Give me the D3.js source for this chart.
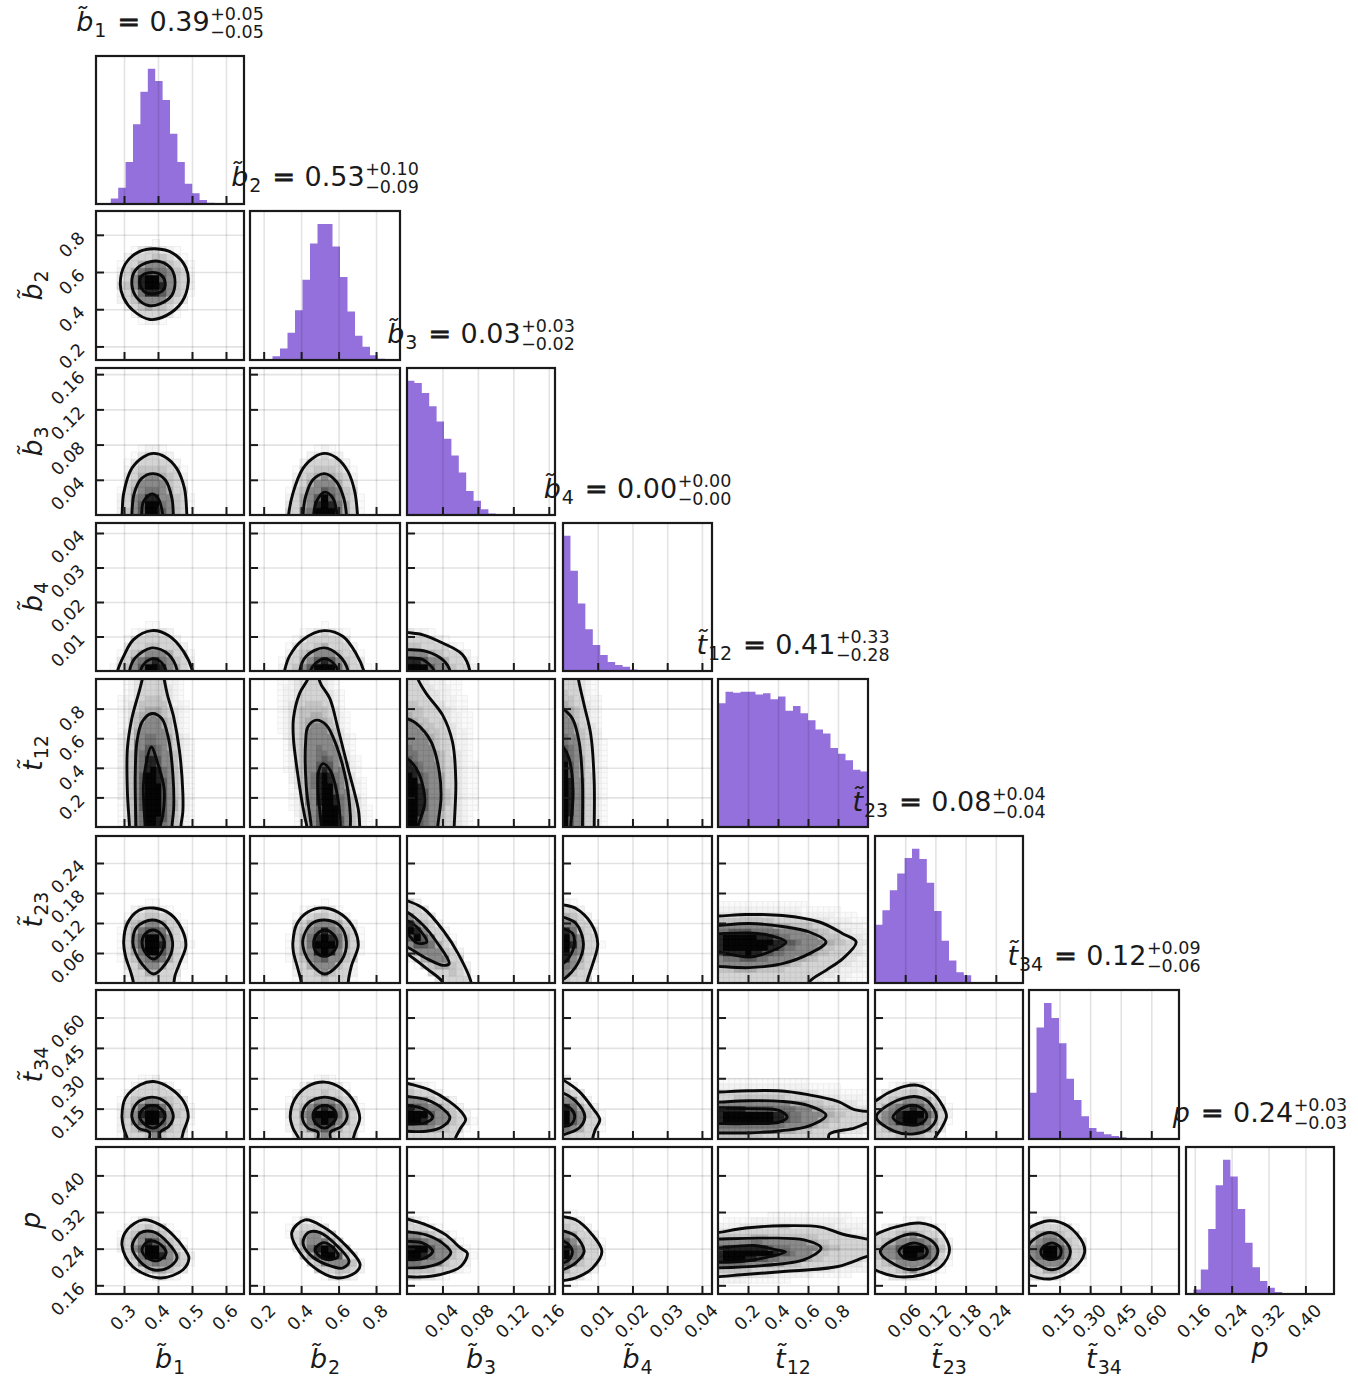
<!DOCTYPE html>
<html>
<head>
<meta charset="utf-8">
<style>
  body { margin: 0; background: #fff; }
  text { font-family: "DejaVu Sans", sans-serif; fill: #1a1a1a; }
</style>
</head>
<body>
<svg width="1358" height="1381"></svg>
<script src="https://d3js.org/d3.v7.min.js"></script>
<script>

// parameters, in the order of the corner plot
const names = ["b1", "b2", "b3", "b4", "t12", "t23", "t34", "p"];
const labelBase = ["b\u0303", "b\u0303", "b\u0303", "b\u0303", "t\u0303", "t\u0303", "t\u0303", "p"];
const labelSub = ["1", "2", "3", "4", "12", "23", "34", ""];
const titleValue = ["0.39", "0.53", "0.03", "0.00", "0.41", "0.08", "0.12", "0.24"];
const titlePlus = ["+0.05", "+0.10", "+0.03", "+0.00", "+0.33", "+0.04", "+0.09", "+0.03"];
const titleMinus = ["\u22120.05", "\u22120.09", "\u22120.02", "\u22120.00", "\u22120.28", "\u22120.04", "\u22120.06", "\u22120.03"];

// axis ranges and ticks
const domains = [[0.2176, 0.653], [0.127, 0.928], [0, 0.167], [0, 0.0429], [0, 1], [0, 0.294], [0, 0.736], [0.141, 0.462]];
const tickValues = [
  [0.3, 0.4, 0.5, 0.6], [0.2, 0.4, 0.6, 0.8], [0.04, 0.08, 0.12, 0.16], [0.01, 0.02, 0.03, 0.04],
  [0.2, 0.4, 0.6, 0.8], [0.06, 0.12, 0.18, 0.24], [0.15, 0.30, 0.45, 0.60], [0.16, 0.24, 0.32, 0.40]
];
const tickFormats = [".1f", ".1f", ".2f", ".2f", ".1f", ".2f", ".2f", ".2f"];

// marginal histograms, 20 bins
const hist_b1 = [0, 0.005, 0.04, 0.12, 0.31, 0.59, 0.83, 1, 0.91, 0.77, 0.52, 0.31, 0.15, 0.08, 0.03, 0.01, 0.005, 0, 0, 0];
const hist_b2 = [0, 0.003, 0.005, 0.027, 0.084, 0.2, 0.366, 0.59, 0.856, 1, 1, 0.834, 0.61, 0.356, 0.178, 0.097, 0.035, 0.01, 0.003, 0];
const hist_b3 = [1, 0.983, 0.909, 0.81, 0.696, 0.568, 0.444, 0.316, 0.178, 0.106, 0.042, 0.012, 0.002, 0, 0, 0, 0, 0, 0, 0];
const hist_b4 = [1, 0.741, 0.5, 0.309, 0.193, 0.119, 0.067, 0.044, 0.032, 0.012, 0.007, 0.005, 0.002, 0, 0, 0, 0, 0, 0, 0];
const hist_t12 = [0.915, 1, 0.993, 1, 1, 0.98, 0.99, 0.945, 0.965, 0.861, 0.896, 0.841, 0.789, 0.721, 0.692, 0.585, 0.542, 0.493, 0.423, 0.41];
const hist_t23 = [0.433, 0.542, 0.69, 0.815, 0.931, 1, 0.924, 0.746, 0.537, 0.315, 0.167, 0.081, 0.057, 0.007, 0.002, 0, 0, 0, 0, 0];
const hist_t34 = [0.34, 0.82, 1, 0.889, 0.704, 0.443, 0.286, 0.167, 0.081, 0.054, 0.034, 0.022, 0.012, 0.007, 0.005, 0.005, 0.002, 0.002, 0, 0];
const hist_p = [0.002, 0.034, 0.182, 0.484, 0.811, 1, 0.875, 0.634, 0.381, 0.199, 0.096, 0.047, 0.015, 0.005, 0.002, 0, 0, 0, 0, 0];
const hists = [hist_b1, hist_b2, hist_b3, hist_b4, hist_t12, hist_t23, hist_t34, hist_p];

// contours of each pair, in data units: [outer, middle, inner], row_column
const b2_b1 = [
  [[.289,.535],[.303,.641],[.342,.707],[.391,.725],[.445,.7],[.482,.624],[.489,.544],[.47,.438],[.425,.367],[.376,.345],[.327,.393],[.298,.464]],
  [[.323,.535],[.332,.606],[.367,.65],[.406,.656],[.44,.615],[.45,.544],[.44,.473],[.406,.429],[.372,.42],[.337,.464]],
  [[.347,.535],[.352,.579],[.376,.597],[.406,.588],[.421,.544],[.414,.5],[.386,.482],[.362,.491]]
];
const b3_b1 = [
  [[.29,-.012],[.294,0],[.299,.0246],[.323,.053],[.357,.066],[.387,.07],[.421,.066],[.455,.053],[.478,.03],[.485,0],[.487,-.012]],
  [[.323,-.012],[.323,0],[.33,.0246],[.352,.0416],[.387,.047],[.421,.04],[.441,.019],[.445,0],[.445,-.012]],
  [[.352,-.012],[.352,0],[.357,.015],[.382,.024],[.4,.019],[.414,0],[.414,-.012]]
];
const b3_b2 = [
  [[.33,-.012],[.333,0],[.356,.0246],[.41,.053],[.472,.066],[.526,.07],[.588,.065],[.651,.049],[.687,.026],[.701,0],[.703,-.012]],
  [[.41,-.012],[.41,0],[.424,.021],[.463,.04],[.526,.047],[.588,.038],[.628,.019],[.642,0],[.642,-.012]],
  [[.467,-.012],[.467,0],[.481,.015],[.526,.026],[.57,.019],[.592,0],[.592,-.012]]
];
const b4_b1 = [
  [[.278,-.002],[.281,0],[.299,.0043],[.328,.0091],[.382,.0117],[.431,.0103],[.475,.0057],[.502,0],[.505,-.002]],
  [[.316,-.002],[.316,0],[.333,.0038],[.382,.0067],[.431,.0048],[.457,0],[.457,-.002]],
  [[.348,-.002],[.348,0],[.362,.0024],[.387,.0036],[.411,.0024],[.424,0],[.424,-.002]]
];
const b4_b2 = [
  [[.305,-.002],[.311,0],[.338,.0043],[.41,.0091],[.522,.0117],[.624,.01],[.696,.0048],[.735,0],[.74,-.002]],
  [[.392,-.002],[.392,0],[.427,.0043],[.522,.0067],[.606,.0043],[.651,0],[.651,-.002]],
  [[.449,-.002],[.449,0],[.481,.0024],[.526,.0036],[.57,.0024],[.597,0],[.597,-.002]]
];
const b4_b3 = [
  [[-.006,.0115],[0,.0112],[.0179,.0105],[.0402,.0081],[.0625,.0048],[.071,0],[.071,-.002],[-.006,-.002]],
  [[-.006,.0063],[0,.0062],[.0216,.0057],[.0402,.0033],[.0487,0],[.0487,-.002],[-.006,-.002]],
  [[-.006,.0039],[0,.0038],[.0179,.0033],[.0309,0],[.0309,-.002],[-.006,-.002]]
];
const t12_b1 = [
  [[.358,1.06],[.354,1],[.343,.903],[.323,.733],[.31,.529],[.31,.235],[.316,0],[.316,-.06],[.467,-.06],[.467,0],[.473,.1],[.473,.235],[.463,.518],[.446,.744],[.428,.891],[.418,1],[.414,1.06]],
  [[.335,-.06],[.335,0],[.333,.348],[.338,.575],[.353,.71],[.382,.767],[.411,.733],[.431,.597],[.444,.348],[.446,.122],[.441,0],[.441,-.06]],
  [[.362,-.06],[.362,0],[.357,.28],[.365,.428],[.38,.541],[.401,.416],[.418,.258],[.414,.077],[.406,0],[.406,-.06]]
];
const t12_b2 = [
  [[.445,1.06],[.436,1],[.392,.903],[.359,.733],[.359,.597],[.383,.348],[.418,.077],[.431,0],[.431,-.06],[.713,-.06],[.713,0],[.705,.122],[.651,.394],[.597,.665],[.553,.869],[.508,.959],[.495,1],[.49,1.06]],
  [[.454,-.06],[.454,0],[.427,.28],[.424,.575],[.436,.676],[.481,.722],[.535,.688],[.588,.552],[.642,.303],[.663,.077],[.663,0],[.663,-.06]],
  [[.508,-.06],[.508,0],[.49,.258],[.495,.382],[.517,.428],[.556,.382],[.597,.19],[.61,0],[.61,-.06]]
];
const t12_b3 = [
  [[.01,1.06],[.0123,1],[.0216,.903],[.0402,.756],[.0513,.576],[.0551,.305],[.0532,0],[.053,-.06],[-.01,-.06],[-.01,1.06]],
  [[-.01,.76],[0,.733],[.0104,.7],[.0272,.576],[.0365,.372],[.0383,.192],[.0346,0],[.034,-.06],[-.01,-.06]],
  [[-.01,.48],[0,.463],[.0104,.395],[.0186,.26],[.0197,.147],[.0123,0],[.012,-.06],[-.01,-.06]]
];
const t12_b4 = [
  [[.0042,1.06],[.00444,1],[.00609,.824],[.00802,.621],[.00898,.305],[.00898,0],[.00898,-.06],[-.001,-.06],[-.001,1.06]],
  [[-.001,.82],[0,.801],[.0027,.733],[.00464,.576],[.0056,.305],[.0056,0],[.0056,-.06],[-.001,-.06]],
  [[-.001,.56],[0,.542],[.00174,.463],[.0029,.237],[.00222,0],[.0022,-.06],[-.001,-.06]]
];
const t23_b1 = [
  [[.299,.0815],[.309,.118],[.343,.145],[.387,.15],[.436,.138],[.47,.108],[.482,.0748],[.465,.0414],[.45,.0147],[.447,0],[.447,-.02],[.328,-.02],[.328,0],[.32,.0214],[.304,.0548]],
  [[.326,.0815],[.338,.112],[.382,.126],[.421,.115],[.443,.0815],[.431,.048],[.387,.018],[.353,.038],[.333,.0615]],
  [[.353,.0815],[.362,.098],[.387,.106],[.411,.095],[.418,.078],[.406,.058],[.387,.048],[.362,.0615]]
];
const t23_b2 = [
  [[.356,.0815],[.377,.118],[.436,.142],[.526,.15],[.624,.135],[.687,.105],[.705,.0748],[.669,.0347],[.651,0],[.651,-.02],[.401,-.02],[.401,0],[.383,.028],[.359,.0615]],
  [[.41,.088],[.454,.118],[.526,.126],[.606,.115],[.642,.0815],[.615,.0448],[.526,.018],[.454,.038],[.418,.0615]],
  [[.467,.0815],[.485,.098],[.526,.106],[.57,.098],[.592,.0815],[.57,.0615],[.526,.0534],[.481,.0615]]
];
const t23_b3 = [
  [[-.006,.17],[0,.165],[.0186,.149],[.0409,.105],[.0577,.0587],[.0725,0],[.0725,-.02],[.0409,-.02],[.0409,0],[.0223,.0287],[0,.0587],[-.006,.065]],
  [[-.006,.146],[0,.142],[.0186,.115],[.0335,.082],[.0476,.0387],[.0409,.0353],[.0223,.0487],[0,.072],[-.006,.076]],
  [[-.006,.128],[0,.125],[.0112,.112],[.0223,.082],[.0112,.08],[0,.0987],[-.006,.102]]
];
const t23_b4 = [
  [[-.001,.16],[0,.157],[.00376,.149],[.0081,.119],[.01,.0787],[.00858,.0387],[.00684,0],[.0068,-.02],[-.001,-.02]],
  [[-.001,.135],[0,.132],[.00376,.119],[.00588,.0787],[.00424,.0387],[.00039,.0087],[-.001,.006]],
  [[-.001,.112],[0,.109],[.0028,.0987],[.0033,.0787],[.00183,.052],[0,.0387],[-.001,.036]]
];
const t23_t12 = [
  [[-.02,.135],[0,.134],[.185,.137],[.43,.135],[.676,.122],[.832,.0987],[.921,.082],[.832,.0487],[.72,.0253],[.609,.002],[.59,-.02],[-.02,-.02]],
  [[-.02,.115],[0,.115],[.207,.119],[.43,.113],[.609,.102],[.72,.082],[.609,.0587],[.43,.0387],[.207,.0307],[0,.0333],[-.02,.0333]],
  [[-.02,.0987],[0,.0987],[.207,.1],[.341,.0954],[.453,.082],[.341,.062],[.207,.052],[0,.062],[-.02,.062]]
];
const t34_b1 = [
  [[.294,.112],[.304,.202],[.348,.268],[.387,.284],[.436,.251],[.475,.186],[.489,.112],[.475,.038],[.47,0],[.47,-.03],[.31,-.03],[.31,0],[.299,.054]],
  [[.323,.112],[.338,.177],[.382,.207],[.426,.177],[.445,.112],[.431,.062],[.406,.033],[.406,-.02],[.375,-.02],[.375,.033],[.343,.054]],
  [[.346,.112],[.358,.15],[.387,.166],[.411,.145],[.421,.112],[.406,.071],[.387,.054],[.362,.071]]
];
const t34_b2 = [
  [[.342,.112],[.365,.194],[.436,.26],[.526,.281],[.615,.251],[.687,.177],[.713,.104],[.687,.03],[.678,0],[.678,-.03],[.388,-.03],[.388,0],[.356,.054]],
  [[.406,.112],[.436,.177],[.526,.207],[.615,.177],[.646,.112],[.615,.062],[.556,.033],[.556,-.02],[.49,-.02],[.49,.033],[.436,.054]],
  [[.463,.112],[.481,.15],[.526,.166],[.57,.15],[.588,.112],[.561,.071],[.526,.054],[.49,.067]]
];
const t34_b3 = [
  [[-.006,.285],[0,.276],[.0253,.243],[.0476,.186],[.0625,.128],[.0662,.095],[.0606,.054],[.0543,0],[.054,-.03],[-.006,-.03]],
  [[-.006,.215],[0,.21],[.0216,.194],[.0402,.15],[.0484,.107],[.0402,.062],[.0216,.038],[0,.038],[-.006,.038]],
  [[-.006,.168],[0,.166],[.0179,.15],[.029,.108],[.0197,.079],[0,.074],[-.006,.074]]
];
const t34_b4 = [
  [[-.001,.3],[0,.292],[.00464,.235],[.0085,.153],[.0106,.095],[.00927,.046],[.0085,0],[.0085,-.03],[-.001,-.03]],
  [[-.001,.23],[0,.227],[.00367,.186],[.00628,.112],[.00464,.054],[0,.021],[-.001,.017]],
  [[-.001,.172],[0,.169],[.00222,.15],[.00338,.112],[.00222,.071],[0,.062],[-.001,.06]]
];
const t34_t12 = [
  [[-.02,.232],[0,.232],[.2,.238],[.4,.238],[.6,.219],[.798,.186],[.909,.145],[1,.136],[1.05,.136],[1.05,.079],[1,.079],[.909,.054],[.743,.025],[.736,0],[.73,-.03],[-.02,-.03]],
  [[-.02,.182],[0,.182],[.2,.189],[.421,.186],[.599,.166],[.72,.117],[.599,.062],[.421,.041],[.2,.03],[0,.03],[-.02,.03]],
  [[-.02,.153],[0,.153],[.2,.15],[.41,.14],[.461,.108],[.41,.084],[.2,.076],[0,.076],[-.02,.076]]
];
const t34_t23 = [
  [[-.005,.18],[0,.186],[.0258,.227],[.0589,.26],[.0854,.265],[.115,.227],[.135,.161],[.142,.112],[.132,.054],[.118,0],[.116,-.03],[-.005,-.03]],
  [[.0026,.108],[.0324,.177],[.0788,.21],[.105,.186],[.122,.112],[.109,.054],[.0788,.026],[.039,.038]],
  [[.0357,.108],[.0523,.15],[.0788,.166],[.1,.136],[.102,.104],[.0854,.071],[.0622,.071],[.0444,.084]]
];
const p_b1 = [
  [[.294,.248],[.309,.281],[.356,.303],[.406,.292],[.444,.27],[.479,.238],[.491,.22],[.4735,.194],[.406,.176],[.326,.2005]],
  [[.324,.245],[.347,.274],[.385,.277],[.429,.253],[.456,.22],[.429,.198],[.385,.194],[.347,.212]],
  [[.353,.238],[.371,.256],[.4,.253],[.424,.231],[.4,.214],[.368,.22]]
];
const p_b2 = [
  [[.35,.275],[.421,.303],[.517,.288],[.624,.253],[.715,.205],[.688,.187],[.597,.176],[.501,.19],[.394,.231]],
  [[.41,.253],[.437,.275],[.501,.275],[.597,.244],[.656,.212],[.624,.198],[.537,.205],[.447,.227]],
  [[.474,.238],[.517,.253],[.571,.242],[.597,.223],[.544,.216],[.49,.227]]
];
const p_b3 = [
  [[-.006,.31],[0,.305],[.0216,.292],[.0439,.27],[.0606,.241],[.0681,.23],[.0606,.201],[.0365,.183],[.0141,.178],[0,.179],[-.006,.18]],
  [[-.006,.279],[0,.277],[.0216,.27],[.0402,.252],[.0495,.232],[.0402,.212],[.0216,.2],[0,.198],[-.006,.198]],
  [[-.006,.257],[0,.256],[.0179,.252],[.029,.234],[.0179,.218],[0,.216],[-.006,.216]]
];
const p_b4 = [
  [[-.001,.312],[0,.31],[.00367,.303],[.00802,.274],[.0112,.234],[.0085,.198],[.00367,.176],[0,.17],[-.001,.168]],
  [[-.001,.281],[0,.279],[.00367,.267],[.00609,.234],[.00367,.209],[0,.194],[-.001,.192]],
  [[-.001,.259],[0,.257],[.00174,.248],[.0027,.234],[.00174,.216],[0,.209],[-.001,.207]]
];
const p_t12 = [
  [[-.02,.275],[0,.275],[.184,.285],[.436,.29],[.687,.287],[.827,.272],[.995,.261],[1.05,.258],[1.05,.226],[.995,.223],[.8,.201],[.436,.19],[.156,.183],[0,.179],[-.02,.179]],
  [[-.02,.261],[0,.261],[.296,.263],[.575,.259],[.687,.241],[.575,.216],[.296,.203],[0,.198],[-.02,.198]],
  [[-.02,.241],[0,.241],[.24,.247],[.38,.238],[.45,.233],[.352,.223],[.156,.212],[0,.21],[-.02,.21]]
];
const p_t23 = [
  [[-.005,.266],[0,.27],[.0436,.288],[.089,.296],[.127,.281],[.148,.238],[.131,.201],[.093,.183],[.0436,.179],[0,.194],[-.005,.198]],
  [[.0105,.234],[.0436,.263],[.077,.272],[.114,.256],[.125,.234],[.11,.208],[.077,.194],[.04,.205]],
  [[.0475,.234],[.06,.247],[.081,.252],[.102,.241],[.102,.227],[.081,.217],[.06,.219]]
];
const p_t34 = [
  [[-.01,.28],[0,.285],[.1,.301],[.193,.289],[.265,.252],[.272,.23],[.223,.198],[.109,.174],[0,.183],[-.01,.187]],
  [[-.005,.245],[.047,.267],[.109,.275],[.172,.259],[.203,.234],[.172,.205],[.109,.194],[.037,.208],[-.005,.23]],
  [[.058,.234],[.079,.247],[.119,.252],[.155,.241],[.151,.223],[.109,.216],[.068,.223]]
];
const contours = {
  b2_b1, b3_b1, b3_b2, b4_b1, b4_b2, b4_b3, t12_b1, t12_b2, t12_b3, t12_b4,
  t23_b1, t23_b2, t23_b3, t23_b4, t23_t12, t34_b1, t34_b2, t34_b3, t34_b4, t34_t12, t34_t23,
  p_b1, p_b2, p_b3, p_b4, p_t12, p_t23, p_t34
};

// grid of panels
const lefts = [96, 250, 407, 563, 718, 875, 1029, 1186];
const rights = [244, 400, 555, 712, 868, 1023, 1179, 1334];
const tops = [56, 211, 368, 523, 679, 836, 990, 1147];
const bottoms = [204, 360, 515, 671, 827, 983, 1139, 1294];

const purple = "#9370db";
const svg = d3.select("svg");

const xScales = domains.map((d, i) => d3.scaleLinear().domain(d).range([lefts[i], rights[i]]));
const yScales = domains.map((d, i) => d3.scaleLinear().domain(d).range([bottoms[i], tops[i]]));
const gray = d3.interpolateRgb("#fff", "#000");

// shade of a 2d bin from where it falls among the scaled contours
const shadeStops = [
  [0, 1.45, 0.02], [0, 1.28, 0.05], [0, 1.12, 0.1], [0, 1, 0.17],
  [1, 1.25, 0.23], [1, 1.1, 0.31], [1, 1, 0.46],
  [2, 1.45, 0.54], [2, 1.2, 0.64], [2, 1, 0.86], [2, 0.75, 0.98]
];

function drawPair(g, row, col, id) {
  const x = xScales[col], y = yScales[row];
  const rings = contours[names[row] + "_" + names[col]];
  const px = rings.map(r => r.map(p => [x(p[0]), y(p[1])]));
  const c = d3.polygonCentroid(px[2]);
  const wide = names[row] === "t12" || names[col] === "t12";

  // the haze outside the outer contour is only wide in the t12 panels
  const stops = shadeStops.map(s => {
    const k = (s[0] === 0 && s[1] > 1 && !wide) ? 1 + (s[1] - 1) * 0.4 : s[1];
    return { shade: s[2], poly: px[s[0]].map(p => [c[0] + (p[0] - c[0]) * k, c[1] + (p[1] - c[1]) * k]) };
  });

  const n = wide ? 27 : 21;
  const cw = (x.domain()[1] - x.domain()[0]) / n, ch = (y.domain()[1] - y.domain()[0]) / n;
  const cells = [];
  d3.range(n).forEach(i => d3.range(n).forEach(j => {
    const vx = x.domain()[0] + i * cw, vy = y.domain()[0] + j * ch;
    const mid = [x(vx + cw / 2), y(vy + ch / 2)];
    let shade = 0;
    stops.forEach(s => { if (d3.polygonContains(s.poly, mid)) shade = s.shade; });
    if (shade > 0) cells.push({ vx, vy, shade });
  }));

  const body = g.append("g").attr("clip-path", "url(#" + id + ")");
  body.selectAll("rect").data(cells).enter().append("rect")
    .attr("x", d => x(d.vx))
    .attr("y", d => y(d.vy + ch))
    .attr("width", x(x.domain()[0] + cw) - x(x.domain()[0]))
    .attr("height", y(y.domain()[0]) - y(y.domain()[0] + ch))
    .attr("fill", d => gray(d.shade))
    .attr("stroke", d => gray(Math.min(1, d.shade + 0.05)))
    .attr("stroke-width", 0.8);

  const line = d3.line().curve(d3.curveCatmullRomClosed.alpha(0.5)).x(p => x(p[0])).y(p => y(p[1]));
  body.selectAll("path").data(rings).enter().append("path")
    .attr("d", line)
    .attr("fill", "none")
    .attr("stroke", "#0a0a0a")
    .attr("stroke-width", 2.9);
}

function drawHist(g, i, id) {
  const x = xScales[i];
  const y = d3.scaleLinear().domain([0, d3.max(hists[i]) * 1.095]).range([bottoms[i], tops[i]]);
  const w = (x.domain()[1] - x.domain()[0]) / hists[i].length;
  const steps = hists[i].map((v, k) => [x.domain()[0] + k * w, v]);
  steps.push([x.domain()[1], hists[i][hists[i].length - 1]]);
  const area = d3.area().curve(d3.curveStepAfter).x(d => x(d[0])).y0(y(0)).y1(d => y(d[1]));
  g.append("path").attr("clip-path", "url(#" + id + ")").attr("d", area(steps)).attr("fill", purple);
}

function drawAxes(g, row, col) {
  const x = xScales[col], y = yScales[row];
  const w = rights[col] - lefts[col], h = bottoms[row] - tops[row];

  // grid first, as long ticks
  g.append("g").attr("transform", "translate(0," + bottoms[row] + ")")
    .call(d3.axisBottom(x).tickValues(tickValues[col]).tickSize(-h).tickFormat(""))
    .call(a => a.select(".domain").remove())
    .call(a => a.selectAll("line").attr("stroke", "rgba(0,0,0,0.11)").attr("stroke-width", 1.6));
  if (row !== col) {
    g.append("g").attr("transform", "translate(" + lefts[col] + ",0)")
      .call(d3.axisLeft(y).tickValues(tickValues[row]).tickSize(-w).tickFormat(""))
      .call(a => a.select(".domain").remove())
      .call(a => a.selectAll("line").attr("stroke", "rgba(0,0,0,0.11)").attr("stroke-width", 1.6));
  }

  const bottomAxis = g.append("g").attr("transform", "translate(0," + bottoms[row] + ")")
    .call(d3.axisBottom(x).tickValues(tickValues[col]).tickSize(-8).tickFormat(d3.format(tickFormats[col])))
    .call(a => a.select(".domain").remove())
    .call(a => a.selectAll("line").attr("stroke", "#1a1a1a").attr("stroke-width", 2));
  bottomAxis.selectAll("text").each(function () {
    if (row !== names.length - 1) { d3.select(this).remove(); return; }
    const t = d3.select(this).attr("font-size", 17.5).attr("font-family", "DejaVu Sans");
    const half = (this.getComputedTextLength() + 12.5) * 0.707 / 2;
    t.attr("x", 0).attr("y", 0).attr("dy", "0.35em")
      .attr("text-anchor", "middle")
      .attr("transform", "translate(-1.5," + (9 + half) + ") rotate(-45)");
  });

  if (row !== col) {
    const leftAxis = g.append("g").attr("transform", "translate(" + lefts[col] + ",0)")
      .call(d3.axisLeft(y).tickValues(tickValues[row]).tickSize(-8).tickFormat(d3.format(tickFormats[row])))
      .call(a => a.select(".domain").remove())
      .call(a => a.selectAll("line").attr("stroke", "#1a1a1a").attr("stroke-width", 2));
    leftAxis.selectAll("text").each(function () {
      if (col !== 0) { d3.select(this).remove(); return; }
      const t = d3.select(this).attr("font-size", 17.5).attr("font-family", "DejaVu Sans");
      const half = (this.getComputedTextLength() + 12.5) * 0.707 / 2;
      t.attr("x", 0).attr("y", 0).attr("dy", "0.35em")
        .attr("text-anchor", "middle")
        .attr("transform", "translate(" + (-10 - half) + "," + (half - 5) + ") rotate(-45)");
    });
  }

  g.append("rect")
    .attr("x", lefts[col]).attr("y", tops[row]).attr("width", w).attr("height", h)
    .attr("fill", "none").attr("stroke", "#1a1a1a").attr("stroke-width", 2.2);
}

// panels
names.forEach((_, row) => {
  d3.range(row + 1).forEach(col => {
    const id = "clip-" + row + "-" + col;
    svg.append("clipPath").attr("id", id).append("rect")
      .attr("x", lefts[col]).attr("y", tops[row])
      .attr("width", rights[col] - lefts[col]).attr("height", bottoms[row] - tops[row]);
    const g = svg.append("g");
    if (row === col) drawHist(g, col, id); else drawPair(g, row, col, id);
    drawAxes(g, row, col);
  });
});

// axis labels and titles
function put(g, s, x, y, size, italic) {
  return g.append("text").attr("x", x).attr("y", y).attr("font-size", size)
    .attr("font-style", italic ? "italic" : "normal").text(s);
}

names.forEach((_, i) => {
  const lab = svg.append("g");
  const base = put(lab, labelBase[i], 0, 0, 27, true);
  const bw = base.node().getComputedTextLength();
  let sw = 0;
  if (labelSub[i]) sw = put(lab, labelSub[i], bw + 1, 6, 19, false).node().getComputedTextLength() + 1;
  const cx = (lefts[i] + rights[i]) / 2;

  // x label below the last row, the same one again rotated at the left
  const isP = names[i] === "p";
  lab.attr("transform", "translate(" + (cx - (bw + sw) / 2) + "," + (isP ? 1357 : 1368) + ")");
  if (i > 0) {
    const cy = (tops[i] + bottoms[i]) / 2;
    const lab2 = svg.append("g")
      .attr("transform", "translate(" + (isP ? 40 : 42) + "," + (cy + (bw + sw) / 2) + ") rotate(-90)");
    put(lab2, labelBase[i], 0, 0, 27, true);
    if (labelSub[i]) put(lab2, labelSub[i], bw + 1, 6, 19, false);
  }

  // title, centred over the panel
  const t = svg.append("g");
  let pos = 0;
  pos += put(t, labelBase[i], pos, 0, 27, true).node().getComputedTextLength();
  if (labelSub[i]) pos += 1 + put(t, labelSub[i], pos + 1, 6, 19, false).node().getComputedTextLength();
  pos += 11;
  pos += put(t, "=", pos, 0, 27, false)
    .attr("stroke", "#1a1a1a").attr("stroke-width", 0.8)
    .node().getComputedTextLength();
  pos += 9.5;
  pos += put(t, titleValue[i], pos, 0, 27, false).node().getComputedTextLength();
  const up = put(t, titlePlus[i], pos + 0.5, -11, 17.5, false).node().getComputedTextLength();
  const dn = put(t, titleMinus[i], pos + 0.5, 7, 17.5, false).node().getComputedTextLength();
  pos += 0.5 + Math.max(up, dn);
  t.attr("transform", "translate(" + (cx - pos / 2) + "," + (tops[i] - 25) + ")");
});
</script>
</body>
</html>
